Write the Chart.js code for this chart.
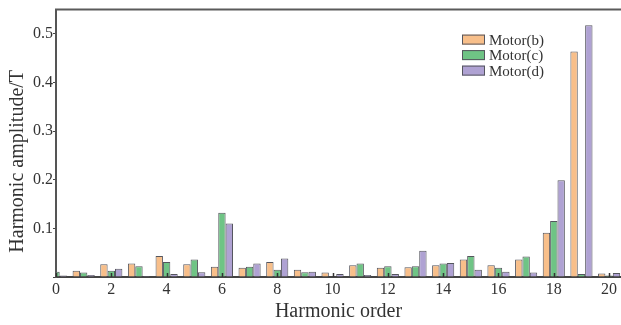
<!DOCTYPE html>
<html>
<head>
<meta charset="utf-8">
<script src="https://cdn.jsdelivr.net/npm/chart.js@4.4.1/dist/chart.umd.min.js"></script>
<style>
  html, body { margin: 0; padding: 0; background: #fff; }
  canvas { display: block; }
</style>
</head>
<body>
<canvas id="harmonicChart" width="621" height="325"></canvas>
<script>
// harmonic orders and amplitudes (T)
const orders = [0, 1, 2, 3, 4, 5, 6, 7, 8, 9, 10, 11, 12, 13, 14, 15, 16, 17, 18, 19, 20];
const motorB = [0.005, 0.013, 0.026, 0.028, 0.043, 0.026, 0.021, 0.019, 0.031, 0.015, 0.009, 0.024, 0.019, 0.020, 0.024, 0.036, 0.024, 0.036, 0.091, 0.464, 0.007];
const motorC = [0.011, 0.009, 0.013, 0.022, 0.031, 0.036, 0.132, 0.021, 0.015, 0.010, 0.001, 0.028, 0.022, 0.022, 0.028, 0.043, 0.019, 0.042, 0.115, 0.006, 0.003];
const motorD = [0.003, 0.004, 0.017, 0.002, 0.006, 0.010, 0.110, 0.028, 0.038, 0.011, 0.006, 0.004, 0.006, 0.054, 0.029, 0.015, 0.011, 0.009, 0.199, 0.518, 0.008];
const seriesNames = ['Motor(b)', 'Motor(c)', 'Motor(d)'];
const xTickStep = 2;
const yTickStep = 0.1;
const yTitle = 'Harmonic amplitude/T';

const fillColors = ['#F8BF8A', '#6FC485', '#AFA2D3'];
const edgeColor = '#55565e';
const serif = "'Liberation Serif', 'Times New Roman', serif";

function toPoints(values) {
    return orders.map((o, i) => ({ x: o, y: values[i] }));
}

// top border of the frame + small inward ticks on the x axis + y title (sits a bit low in the original)
const framePlugin = {
    id: 'frame',
    afterDatasetsDraw(chart) {
        const ctx = chart.ctx;
        const area = chart.chartArea;
        const xs = chart.scales.x;
        ctx.save();
        ctx.strokeStyle = '#5a5a5a';
        ctx.lineWidth = 2;
        ctx.beginPath();
        ctx.moveTo(area.left - 1, area.top);
        ctx.lineTo(area.right, area.top);
        ctx.stroke();
        ctx.lineWidth = 1.5;
        ctx.strokeStyle = '#333';
        xs.ticks.forEach(t => {
            let px = Math.round(xs.getPixelForValue(t.value)) + 0.5;
            ctx.beginPath();
            ctx.moveTo(px, area.bottom);
            ctx.lineTo(px, area.bottom - 4);
            ctx.stroke();
        });

        ctx.translate(18, area.top + (area.bottom - area.top) / 2 + 18);
        ctx.rotate(-Math.PI / 2);
        ctx.font = '20px ' + serif;
        ctx.fillStyle = '#333';
        ctx.textAlign = 'center';
        ctx.textBaseline = 'middle';
        ctx.fillText(yTitle, 0, 0);
        ctx.restore();
    }
};

// legend box in the upper right, stacked vertically
const boxLegendPlugin = {
    id: 'boxLegend',
    afterDraw(chart) {
        const ctx = chart.ctx;
        const area = chart.chartArea;
        let x0 = area.right - 159;
        let y0 = area.top + 30;
        ctx.save();
        ctx.font = '15px ' + serif;
        ctx.textBaseline = 'middle';
        chart.data.datasets.forEach((ds, i) => {
            let cy = y0 + i * 15.5;
            ctx.fillStyle = ds.backgroundColor;
            ctx.fillRect(x0, cy - 5, 23, 10);
            ctx.strokeStyle = edgeColor;
            ctx.lineWidth = 1;
            ctx.strokeRect(x0 + 0.5, cy - 4.5, 22, 9);
            ctx.fillStyle = '#333';
            ctx.fillText(ds.label, x0 + 27, cy + 1);
        });
        ctx.restore();
    }
};

let ctx = document.getElementById('harmonicChart').getContext('2d');
let harmonicChart = new Chart(ctx, {
    type: 'bar',
    data: {
        datasets: [motorB, motorC, motorD].map((vals, i) => ({
            label: seriesNames[i],
            data: toPoints(vals),
            backgroundColor: fillColors[i],
            borderColor: edgeColor,
            borderWidth: 1,
            categoryPercentage: 0.8,
            barPercentage: 1.0
        }))
    },
    plugins: [framePlugin, boxLegendPlugin],
    options: {
        responsive: false,
        animation: false,
        devicePixelRatio: 1,
        layout: { padding: { top: 4, right: 0, bottom: 0, left: 0 } },
        plugins: {
            legend: { display: false },
            tooltip: { enabled: false }
        },
        scales: {
            x: {
                type: 'linear',
                min: 0,
                max: 20.43,
                offset: false,
                afterFit: function(scale) { scale.height = 48; },
                border: { display: true, color: '#444', width: 2 },
                grid: { display: true, drawOnChartArea: false, drawTicks: false },
                ticks: {
                    stepSize: xTickStep,
                    includeBounds: false,
                    padding: 3,
                    color: '#333',
                    maxRotation: 0,
                    font: { family: serif, size: 16 }
                },
                title: {
                    display: true,
                    text: 'Harmonic order',
                    color: '#333',
                    align: 'center',
                    padding: { top: 0, bottom: 1 },
                    font: { family: serif, size: 20 }
                }
            },
            y: {
                min: 0,
                max: 0.55,
                afterFit: function(scale) { scale.width = 56; },
                border: { display: true, color: '#555', width: 2 },
                grid: { display: true, drawOnChartArea: false, drawTicks: true, tickLength: 3, color: '#444' },
                ticks: {
                    stepSize: yTickStep,
                    includeBounds: false,
                    padding: 0,
                    color: '#333',
                    font: { family: serif, size: 16 },
                    callback: function(value) {
                        return value === 0 ? '' : value.toFixed(1);
                    }
                },
                title: { display: false }
            }
        }
    }
});
</script>
</body>
</html>
